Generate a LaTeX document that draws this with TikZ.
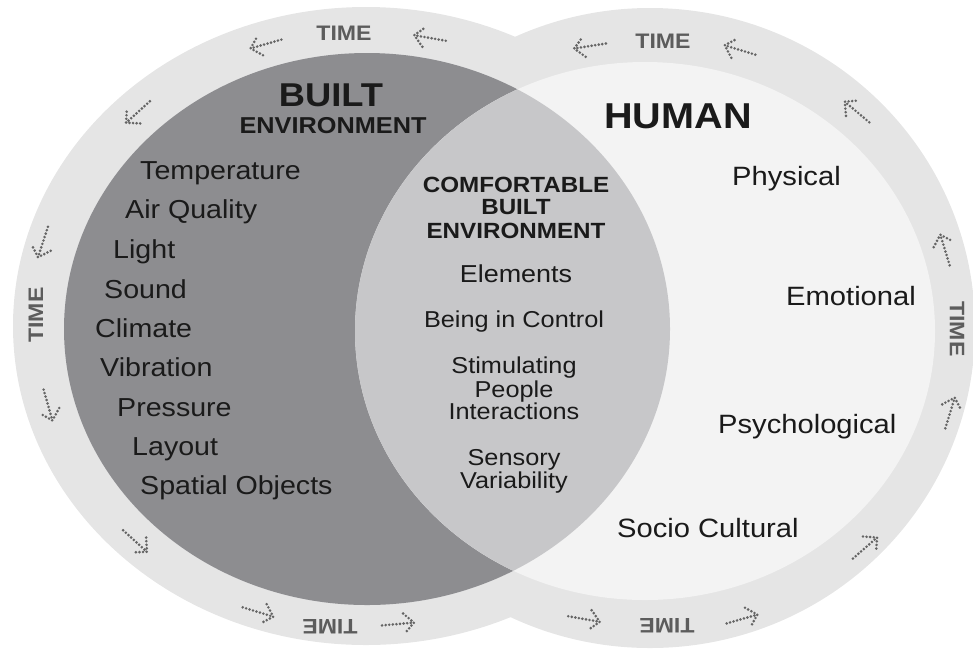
\documentclass[tikz,border=0pt]{standalone}
\usepackage{fontspec}
\setmainfont{Liberation Sans}[FakeStretch=1.1]
\definecolor{ringgray}{RGB}{229,229,229}
\definecolor{builtgray}{RGB}{141,141,144}
\definecolor{comfgray}{RGB}{199,199,201}
\definecolor{humanwhite}{RGB}{243,243,243}
\definecolor{inkblack}{RGB}{26,26,26}
\definecolor{timegray}{RGB}{92,92,92}
\definecolor{dotgray}{RGB}{100,100,100}
\tikzset{factor/.style={anchor=base west, inner sep=0pt, text=inkblack,
           font=\fontsize{26}{28}\selectfont},
         heading/.style={anchor=base, inner sep=0pt, text=inkblack},
         midhead/.style={heading, font=\fontsize{22}{22}\selectfont\bfseries},
         midtext/.style={heading, font=\fontsize{23}{23}\selectfont},
         timelabel/.style={inner sep=0pt, text=timegray,
           font=\fontsize{21}{21}\selectfont\bfseries},
         timedots/.style={draw=dotgray, line width=2.9pt, line cap=round,
           dash pattern=on 0pt off 3.6pt}}
\newcommand\timearrow[3]{%
  \begin{scope}[shift={(#1,#2)}, rotate=#3]
    \draw[timedots] (-16,0) -- (16,0);
    \draw[timedots] (6,-10) -- (16,0) -- (6,10);
  \end{scope}}
\begin{document}
\begin{tikzpicture}[x=1pt,y=-1pt]
\useasboundingbox (0,0) rectangle (973,649);
\clip (0,0) rectangle (973,649);
% time rings
\fill[ringgray] (366,326) ellipse [x radius=353pt, y radius=319pt];
\fill[ringgray] (650,328) ellipse [x radius=325pt, y radius=320pt];
% built, human and their overlap
\fill[builtgray] (367,329) ellipse [x radius=303pt, y radius=276pt];
\fill[humanwhite] (645,331) ellipse [x radius=290pt, y radius=269pt];
\begin{scope}
  \clip (367,329) ellipse [x radius=303pt, y radius=276pt];
  \fill[comfgray] (645,331) ellipse [x radius=290pt, y radius=269pt];
\end{scope}
% dotted arrows in the rings
\foreach \px/\py/\dir in {266/44/196, 430/38/170, 138/112/222, 43/242/252,
    48/405/286, 135/541/318, 258/612/343, 398/624/5,
    590/46/189, 740/50/163, 857/112/140, 945/250/107,
    950/413/73, 865/548/41, 742/619/16, 584/619/-10}
  \timearrow{\px}{\py}{\dir};
\foreach \name/\px/\py/\rot in {timea/344/33/0, timeb/663/41/0, timec/36/315/90,
    timed/957/329/-90, timee/330/627/180, timef/667/626/180}
  \node[timelabel, rotate=\rot] (\name) at (\px,\py) {TIME};
% headings
\node[heading, font=\fontsize{33}{33}\selectfont\bfseries] (built) at (331,106) {BUILT};
\node[heading, font=\fontsize{23}{23}\selectfont\bfseries] (builtenv) at (333,133) {ENVIRONMENT};
\node[heading, font=\fontsize{36}{36}\selectfont\bfseries] (human) at (678,128) {HUMAN};
% built environment factors
\foreach \name/\px/\py/\txt in {temp/140/179/Temperature, air/125/218/Air Quality,
    light/113/258/Light, sound/104/298/Sound, climate/95/337/Climate,
    vibration/100/376/Vibration, pressure/117/416/Pressure,
    layout/132/455/Layout, spatial/140/494/Spatial Objects}
  \node[factor] (\name) at (\px,\py) {\txt};
% human factors
\foreach \name/\px/\py/\txt in {physical/732/185/Physical, emotional/786/305/Emotional,
    psycho/718/433/Psychological, socio/617/537/Socio Cultural}
  \node[factor, font=\fontsize{26.5}{28}\selectfont] (\name) at (\px,\py) {\txt};
% comfortable built environment
\foreach \name/\py/\txt in {comfa/192/COMFORTABLE, comfb/214/BUILT, comfc/238/ENVIRONMENT}
  \node[midhead] (\name) at (516,\py) {\txt};
\node[midtext, font=\fontsize{24.5}{25}\selectfont] (elements) at (516,282) {Elements};
\foreach \name/\py/\txt in {control/327/Being in Control, stima/373/Stimulating,
    stimb/397/People, stimc/419/Interactions, sensa/465/Sensory, sensb/488/Variability}
  \node[midtext] (\name) at (514,\py) {\txt};
\end{tikzpicture}
\end{document}
